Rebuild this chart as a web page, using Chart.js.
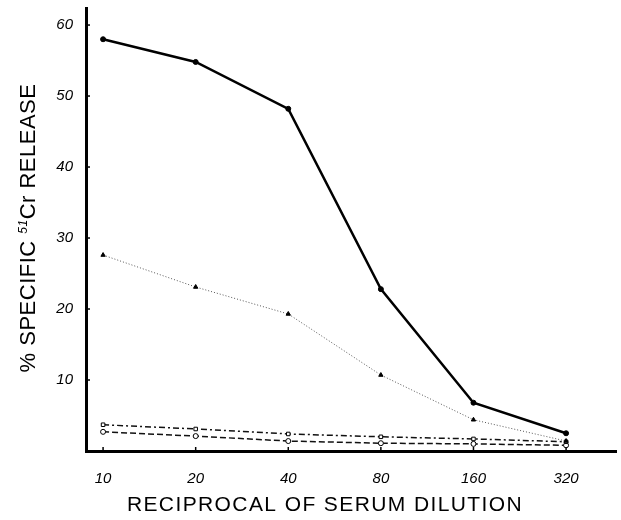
<!DOCTYPE html>
<html>
<head>
<meta charset="utf-8">
<script src="https://cdn.jsdelivr.net/npm/chart.js@4.4.0/dist/chart.umd.min.js"></script>
<style>
body{margin:0;background:#fff;}
#wrap{width:621px;height:520px;}
</style>
</head>
<body>
<div id="wrap"><canvas id="chart1"></canvas></div>
<script>
// donnees
var dilutions = [10, 20, 40, 80, 160, 320];
var serieRonds = [58, 54.8, 48.2, 22.8, 6.8, 2.5];
var serieTriangles = [27.6, 23.1, 19.3, 10.7, 4.4, 1.4];
var serieCarres = [3.7, 3.1, 2.4, 2.0, 1.7, 1.3];
var serieCercles = [2.7, 2.1, 1.4, 1.1, 1.0, 0.8];
var yTicks = [10, 20, 30, 40, 50, 60];
var titreX = "RECIPROCAL OF SERUM DILUTION";
var titreY = ["% SPECIFIC ", "51", "Cr RELEASE"];

function points(values){
    return dilutions.map(function(d, i){
        return {x: d, y: values[i]};
    });
}

// petits traits + titres des axes
var axesPlugin = {
    id: 'axesPlugin',
    afterDraw: function(chart){
        var ctx = chart.ctx;
        var xs = chart.scales.x;
        var ys = chart.scales.y;
        var area = chart.chartArea;
        ctx.save();
        ctx.strokeStyle = '#000';
        ctx.lineWidth = 1.5;
        dilutions.forEach(function(d){
            var px = xs.getPixelForValue(d);
            ctx.beginPath();
            ctx.moveTo(px, area.bottom);
            ctx.lineTo(px, area.bottom - 4);
            ctx.stroke();
        });
        yTicks.forEach(function(v){
            var py = ys.getPixelForValue(v);
            ctx.beginPath();
            ctx.moveTo(area.left, py);
            ctx.lineTo(area.left + 4, py);
            ctx.stroke();
        });

        // titre x
        ctx.fillStyle = '#000';
        ctx.font = '21px "Liberation Sans"';
        ctx.letterSpacing = '1.4px';
        ctx.textAlign = 'center';
        ctx.textBaseline = 'middle';
        ctx.fillText(titreX, 325, 505);

        // titre y avec exposant
        ctx.translate(29, 228);
        ctx.rotate(-Math.PI / 2);
        ctx.textAlign = 'left';
        ctx.letterSpacing = '0.5px';
        var grand = '22px "Liberation Sans"';
        var petit = 'italic 12px "Liberation Sans"';
        ctx.font = grand;
        var w1 = ctx.measureText(titreY[0]).width;
        var w3 = ctx.measureText(titreY[2]).width;
        ctx.font = petit;
        var w2 = ctx.measureText(titreY[1]).width;
        var x0 = -(w1 + w2 + w3) / 2;
        ctx.font = grand;
        ctx.fillText(titreY[0], x0, 0);
        ctx.font = petit;
        ctx.fillText(titreY[1], x0 + w1, -5);
        ctx.font = grand;
        ctx.fillText(titreY[2], x0 + w1 + w2, 0);
        ctx.restore();
    }
};

var ctx = document.getElementById('chart1').getContext('2d');
var myChart = new Chart(ctx, {
    type: 'line',
    data: {
        datasets: [{
            data: points(serieRonds),
            borderColor: '#000',
            borderWidth: 2.5,
            pointStyle: 'circle',
            pointRadius: 2.5,
            pointBorderWidth: 1,
            pointBackgroundColor: '#000',
            pointBorderColor: '#000'
        }, {
            data: points(serieTriangles),
            borderColor: '#555',
            borderWidth: 1,
            borderDash: [1, 2],
            pointStyle: 'triangle',
            pointRadius: 2.5,
            pointBackgroundColor: '#000',
            pointBorderColor: '#000'
        }, {
            data: points(serieCarres),
            borderColor: '#111',
            borderWidth: 1.5,
            borderDash: [6, 3, 2, 3],
            pointStyle: 'rect',
            pointRadius: 2.5,
            pointBorderWidth: 1,
            pointBackgroundColor: '#fff',
            pointBorderColor: '#000'
        }, {
            data: points(serieCercles),
            borderColor: '#111',
            borderWidth: 1.5,
            borderDash: [6, 3],
            pointStyle: 'circle',
            pointRadius: 2.5,
            pointBorderWidth: 1,
            pointBackgroundColor: '#fff',
            pointBorderColor: '#000'
        }]
    },
    options: {
        responsive: true,
        maintainAspectRatio: false,
        animation: false,
        layout: {padding: {top: 8, right: 3, left: 0, bottom: 0}},
        plugins: {
            legend: {display: false},
            tooltip: {enabled: false}
        },
        scales: {
            x: {
                type: 'logarithmic',
                min: 8.8,
                max: 465,
                afterBuildTicks: function(scale){
                    scale.ticks = dilutions.map(function(v){ return {value: v}; });
                },
                afterFit: function(scale){
                    scale.height = 69;
                    scale.paddingLeft = 0;
                    scale.paddingRight = 0;
                },
                grid: {display: false},
                border: {display: true, color: '#000', width: 3},
                ticks: {
                    autoSkip: false,
                    maxRotation: 0,
                    padding: 11,
                    color: '#000',
                    font: {family: '"Liberation Sans"', size: 15, style: 'italic'},
                    callback: function(v){ return v; }
                }
            },
            y: {
                min: 0,
                max: 62.4,
                afterBuildTicks: function(scale){
                    scale.ticks = yTicks.map(function(v){ return {value: v}; });
                },
                afterFit: function(scale){
                    scale.width = 86;
                    scale.paddingTop = 0;
                    scale.paddingBottom = 0;
                },
                grid: {display: false},
                border: {display: true, color: '#000', width: 3},
                ticks: {
                    padding: 5,
                    color: '#000',
                    font: {family: '"Liberation Sans"', size: 15, style: 'italic'}
                }
            }
        }
    },
    plugins: [axesPlugin]
});
</script>
</body>
</html>
